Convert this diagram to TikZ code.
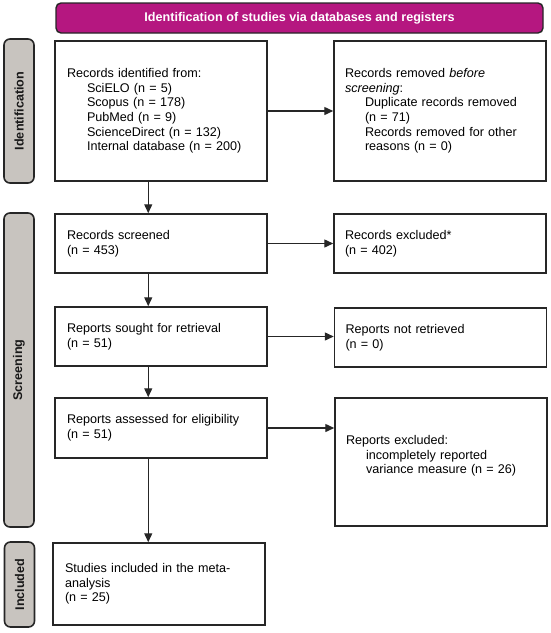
\documentclass[tikz,border=0pt]{standalone}
\usepackage{fontspec}
\setmainfont{Liberation Sans}
\usetikzlibrary{arrows.meta}
\definecolor{bannercol}{RGB}{181,23,128}
\definecolor{sidegray}{RGB}{200,196,191}
\definecolor{edgecol}{RGB}{38,38,38}
\begin{document}
\begin{tikzpicture}[x=1pt,y=-1pt,
  box/.style={draw=edgecol, line width=1.5pt, fill=white, inner xsep=12pt, inner ysep=0pt,
    align=left, font=\fontsize{12.6}{14.6}\selectfont, anchor=center},
  side/.style={draw=edgecol, line width=1.6pt, fill=sidegray, rounded corners=6pt,
    minimum height=30pt, inner sep=0pt, rotate=90, text=black!90,
    font=\bfseries\fontsize{12.6}{14}\selectfont},
  banner/.style={draw=edgecol, line width=1.4pt, fill=bannercol, rounded corners=5pt,
    text=white, font=\bfseries\fontsize{12.6}{14}\selectfont, inner sep=0pt},
  arr/.style={draw=edgecol, line width=1.4pt, -{Triangle[length=9pt,width=8pt]}}]
\useasboundingbox (0,0) rectangle (550,633);

\node[banner, minimum width=487pt, minimum height=30pt] (head) at (299.5,18)
  {Identification of studies via databases and registers};

\node[side, minimum width=144pt] (idbar) at (19,111) {Identification};
\node[side, minimum width=314pt] (scrbar) at (19,370) {Screening};
\node[side, minimum width=85pt] (incbar) at (19.5,584.5) {Included};

\node[box, text width=188pt, minimum height=140pt] (ident) at (161,111)
  {Records identified from:\\
   \hspace*{20pt}SciELO (n = 5)\\
   \hspace*{20pt}Scopus (n = 178)\\
   \hspace*{20pt}PubMed (n = 9)\\
   \hspace*{20pt}ScienceDirect (n = 132)\\
   \hspace*{20pt}Internal database (n = 200)};

\node[box, minimum height=140pt, inner xsep=11pt, text width=190pt] (removed) at (440,111)
  {Records removed \textit{before}\\
   \textit{screening}:\\
   \hspace*{20pt}Duplicate records removed\\
   \hspace*{20pt}(n = 71)\\
   \hspace*{20pt}Records removed for other\\
   \hspace*{20pt}reasons (n = 0)};

\node[box, text width=188pt, minimum height=59pt] (screened) at (161,243.5)
  {Records screened\\(n = 453)};
\node[box, inner xsep=11pt, text width=190pt, minimum height=59pt] (excluded) at (440,243.5)
  {Records excluded*\\(n = 402)};

\node[box, text width=188pt, minimum height=59pt] (sought) at (161,336.5)
  {Reports sought for retrieval\\(n = 51)};
\node[box, inner xsep=11pt, text width=190pt, minimum height=59pt] (notretr) at (440.5,337.5)
  {Reports not retrieved\\(n = 0)};

\node[box, text width=188pt, minimum height=60pt] (assessed) at (161,428)
  {Reports assessed for eligibility\\(n = 51)};
\node[box, inner xsep=11pt, text width=190pt, minimum height=128pt] (repexcl) at (441,462)
  {Reports excluded:\\
   \hspace*{20pt}incompletely reported\\
   \hspace*{20pt}variance measure (n = 26)\\
   \mbox{}};

\node[box, text width=188pt, minimum height=82pt] (studies) at (159,584)
  {Studies included in the meta-\\analysis\\(n = 25)};

% horizontal arrows
\draw[arr] (ident.east) -- (ident.east -| removed.west);
\draw[arr] (screened.east) -- (screened.east -| excluded.west);
\draw[arr] (sought.east) -- (sought.east -| notretr.west);
\draw[arr] (assessed.east) -- (assessed.east -| repexcl.west);

% vertical arrows
\draw[arr] ([xshift=94pt]ident.south west) -- ([xshift=94pt]ident.south west |- screened.north);
\draw[arr] ([xshift=94pt]screened.south west) -- ([xshift=94pt]screened.south west |- sought.north);
\draw[arr] ([xshift=94pt]sought.south west) -- ([xshift=94pt]sought.south west |- assessed.north);
\draw[arr] ([xshift=94pt]assessed.south west) -- ([xshift=94pt]assessed.south west |- studies.north);
\end{tikzpicture}
\end{document}
